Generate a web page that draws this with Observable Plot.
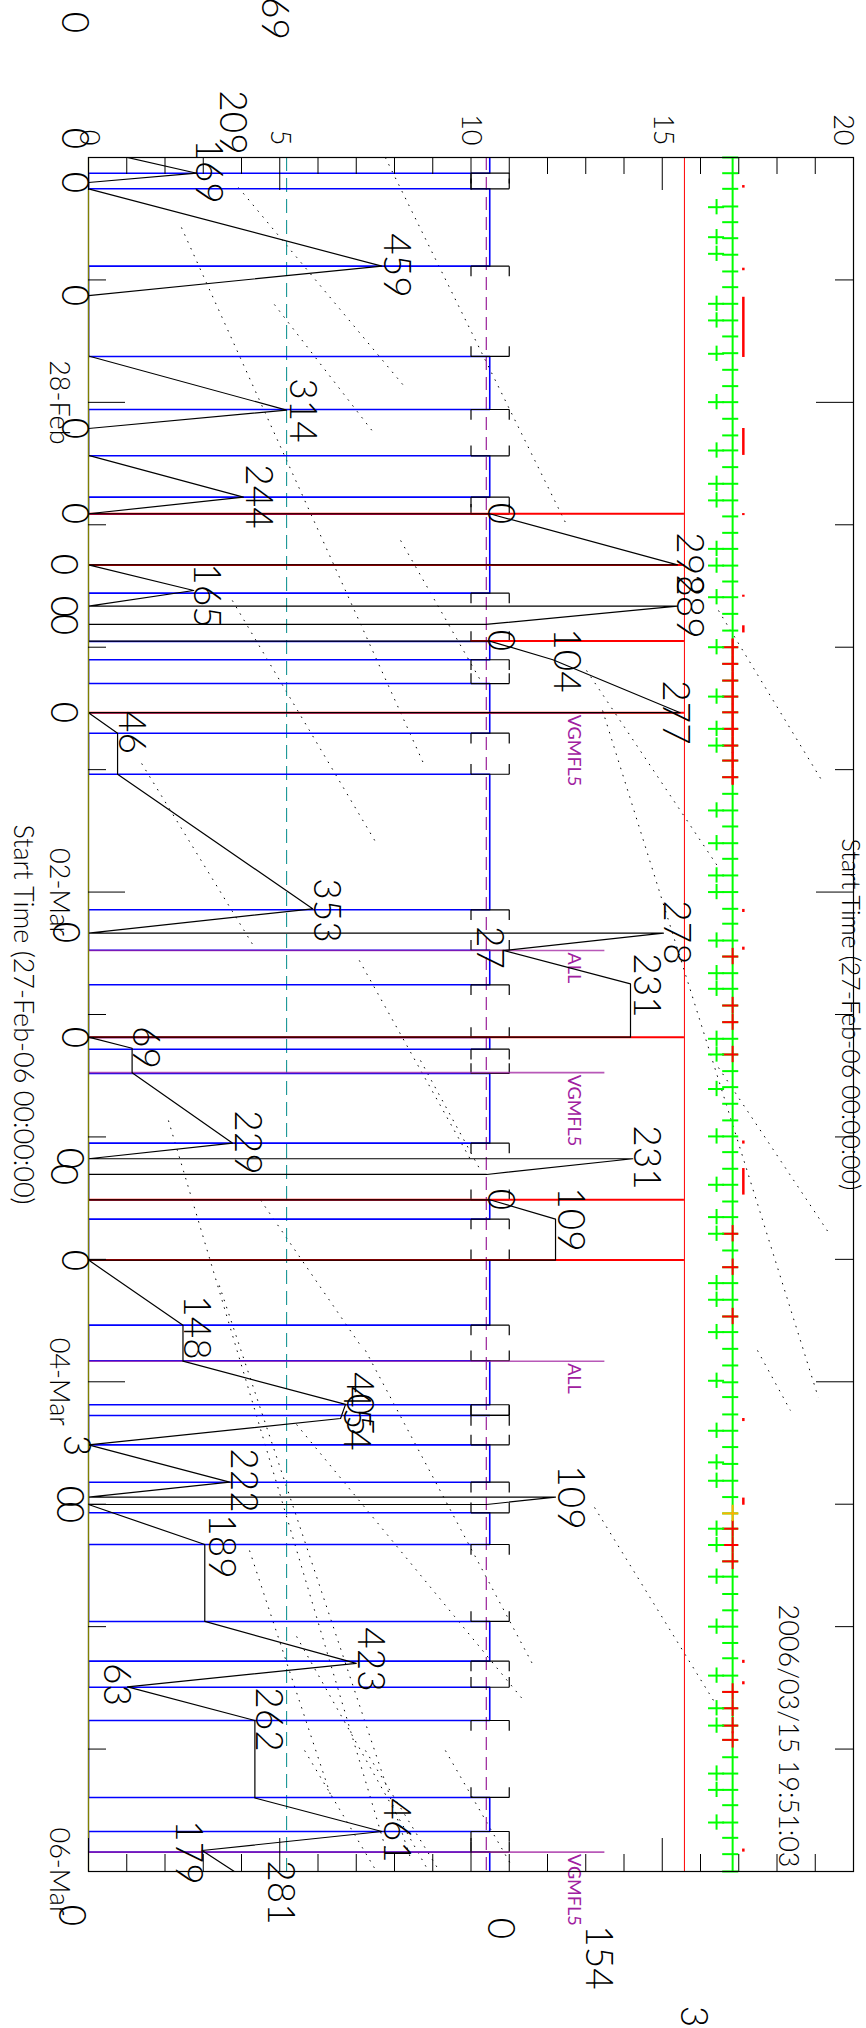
<!DOCTYPE html>
<html><head><meta charset="utf-8">
<script src="https://cdn.jsdelivr.net/npm/d3@7"></script>
<script src="https://cdn.jsdelivr.net/npm/@observablehq/plot@0.6"></script>
<style>html,body{margin:0;padding:0;background:#fff}svg{display:block}</style>
</head><body><div id="chart"></div>
<script>
// All times: hours since 27-Feb-06 00:00:00 ; values on the 0-20 axis
const dayTicks = [24, 72, 120, 168];
const dayLabels = ["28-Feb", "02-Mar", "04-Mar", "06-Mar"];
const minorTimeTicks = [12, 36, 48, 60, 84, 96, 108, 132, 144, 156];
const valueTicks = [0, 5, 10, 15, 20];
const valueMinor = [1,2,3,4,6,7,8,9,11,12,13,14,16,17,18,19];

const blueLevel = 10.49;
const blueGapStart = [1.54,10.65,24.70,33.29,42.70,49.23,56.43,73.74,81.09,87.40,96.61,104.06,114.45,122.25,123.30,129.84,135.95,147.38,153.20,164.08];
const blueGapEnd   = [3.07,19.50,29.24,34.96,47.44,51.56,60.45,77.70,86.25,89.78,102.16,108.04,117.94,123.30,126.18,132.84,143.49,149.94,160.74,166.10];

const recorderT = [-13.6,-13.2,-3.43,-0.87,1.54,2.45,3.07,10.65,13.53,19.46,24.76,26.56,29.2,33.29,34.92,34.92,39.93,39.93,42.44,43.97,43.97,45.77,45.77,47.4,47.4,49.23,54.42,54.42,56.43,60.45,73.64,76.03,76.03,77.73,81.0,86.22,86.22,87.31,89.7,96.61,98.14,98.14,99.68,99.68,102.16,102.16,104.06,108.07,108.07,114.45,117.98,122.21,123.6,126.18,129.84,131.3,131.3,132.03,132.03,135.95,143.49,147.6,149.9,153.2,160.8,164.08,165.94,170.0,174.3,175.5,178.4,184.2];
const recorderV = [4.47,0,3.40,0,2.83,0,0,7.67,0,0,5.18,0,0,4.05,0,10.49,15.4,0,2.75,0,15.4,10.39,0,0,10.49,12.14,15.47,0,0.76,0.76,5.86,0,15.03,10.85,14.17,14.17,0,1.14,1.14,3.77,0,14.23,10.41,0,0,10.49,12.21,12.21,0,2.47,2.47,6.72,6.59,0,3.69,0,12.21,10.41,0,3.04,3.04,7.0,1.02,4.35,4.35,7.67,2.97,4.63,0,10.49,12.94,15.42];

const labelText = ["69","0","209","0","169","0","459","0","314","0","244","0","0","298","0","165","0","289","0","0","104","277","0","46","353","0","278","27","231","0","69","229","0","231","0","0","109","0","148","405","454","3","222","0","109","0","189","423","63","262","461","179","281","0","0","154","3"];
const labelT = [-13.62,-13.23,-3.43,-1.86,1.37,2.45,10.59,13.53,24.80,26.56,33.23,34.89,34.89,39.89,39.89,42.93,44.01,44.01,45.77,47.34,49.30,54.40,54.40,56.36,73.81,75.96,75.96,77.43,81.16,86.25,87.23,96.55,98.11,98.02,99.68,102.13,104.09,108.11,114.68,122.2,123.6,126.24,129.67,131.24,131.34,132.81,136.14,147.22,149.67,153.1,163.98,166.14,170.06,172.31,173.58,176.43,182.21];
const labelV = [4.84,-0.39,3.76,-0.39,3.11,-0.39,8.03,-0.39,5.57,-0.39,4.42,-0.39,10.75,15.69,-0.68,3.08,-0.68,15.69,-0.68,10.75,12.47,15.32,-0.68,1.10,6.20,-0.63,15.35,10.46,14.56,-0.39,1.46,4.13,-0.52,14.56,-0.68,10.75,12.58,-0.39,2.80,7.08,7.0,-0.34,4.03,-0.52,12.58,-0.52,3.45,7.35,0.71,4.68,8.03,2.61,4.99,-0.47,10.75,13.31,15.79];

const redLineT  = [34.92, 39.93, 47.40, 54.42, 86.22, 102.16, 108.07];
const redLineV1 = [0, 0, 10.0, 0, 0, 0, 0];
const redLineV2 = [15.58, 15.58, 15.58, 15.58, 15.58, 15.58, 15.58];

const modeT = [54.42, 77.73, 89.70, 117.98, 166.10];
const modeName = ["VGMFL5", "ALL", "VGMFL5", "ALL", "VGMFL5"];

// dotted guide segments (start/end time and value)
const dotT1 = [0, 2.94, 14.41, 6.86, 43.42, 59.40, 50.28, 44.40, 37.54, 78.7, 88.51, 102.2, 89.2, 116.93, 132.32, 116.93, 156.14, 156.14, 156.14, 136.54, 54.2, 94.39, 110.56, 124.19, 144.96];
const dotV1 = [7.76, 3.92, 4.86, 2.43, 3.76, 1.39, 13.02, 16.47, 8.16, 7.08, 8.68, 4.5, 16.47, 7.24, 13.23, 17.49, 5.65, 7.24, 9.33, 4.21, 13.44, 2.09, 3.42, 5.44, 5.44];
const dotT2 = [35.78, 22.45, 26.95, 59.40, 67.24, 77.43, 69.59, 61.36, 51.26, 98.3, 99.29, 116.7, 105.5, 147.81, 151.24, 122.81, 168, 168, 167.41, 160.75, 121.54, 165.65, 166.92, 151.43, 168.3];
const dotV2 = [12.47, 8.26, 7.45, 8.76, 7.53, 4.34, 16.47, 19.22, 10.25, 10.0, 10.25, 7.16, 19.37, 11.63, 16.34, 18.35, 7.53, 9.18, 11.06, 6.35, 19.08, 7.76, 8.44, 11.42, 8.94];

// per-orbit marks on the status line, and the extra pass marks beside it
const orbitT = [0,1.54,3.07,4.80,6.34,7.91,9.53,11.17,12.71,14.34,15.97,17.54,19.18,20.81,22.41,23.98,25.61,27.24,28.71,30.35,31.98,33.61,35.18,36.79,38.36,40.00,41.56,43.10,44.73,46.37,48.0,49.63,51.27,52.84,54.38,56.0,57.64,59.11,60.74,62.37,64.0,65.57,67.21,68.74,70.37,72.0,73.64,75.1,76.75,78.32,79.95,81.48,83.12,84.75,86.38,87.92,89.55,91.12,92.75,94.38,95.95,97.49,99.12,100.69,102.33,103.86,105.49,107.13,108.77,110.33,111.96,113.6,115.13,116.77,118.4,120.05,121.5,123.2,124.8,126.4,128.05,129.7,131.3,132.9,134.4,136.0,137.6,139.1,140.8,142.4,144.0,145.6,147.1,148.8,150.4,152.0,153.7,155.1,156.8,158.4,160.0,161.5,163.2,164.7,166.3,168];
const redOrbitT = [48.0,49.63,51.27,52.84,54.38,56.0,57.64,59.11,60.74,78.32,83.12,84.75,87.92,105.49,108.77,113.6,134.4,136.0,137.6,150.4,152.0,153.7,155.1];
const orangeOrbitT = [132.9];
const passT = [4.87,7.81,9.44,14.34,15.97,19.24,23.98,28.72,31.98,33.61,38.36,40.0,43.1,48.0,52.84,56.0,57.64,64.0,67.21,70.37,72.0,76.75,79.95,81.48,86.38,87.92,91.3,95.95,100.69,103.86,105.49,110.33,111.96,115.13,119.9,124.8,127.9,129.7,134.4,136.0,139.1,144.0,148.8,152.0,153.7,158.4,160.0,163.2];
const redMarkT1 = [2.75,10.85,13.7,26.56,34.9,42.9,45.9,73.7,77.4,96.4,99.1,123.6,131.4,147.3,149.4,165.8];
const redMarkT2 = [3.0,11.1,19.6,29.2,35.1,43.1,46.6,74.0,77.7,96.7,101.7,123.9,132.1,147.6,149.7,166.1];

// ---- derived tables ----
const bluePts = [{t: 0, v: blueLevel}];
blueGapStart.forEach((a, i) => {
  const b = blueGapEnd[i];
  bluePts.push({t: a, v: blueLevel}, {t: a, v: 0}, {t: b, v: 0}, {t: b, v: blueLevel});
});
bluePts.push({t: 168, v: blueLevel});

const bracket = [];
blueGapStart.forEach((a, i) => {
  const b = blueGapEnd[i], leg = Math.min(1.0, b - a);
  bracket.push({x1: 10, y1: a, x2: 11, y2: a}, {x1: 10, y1: a, x2: 10, y2: a + leg}, {x1: 11, y1: a, x2: 11, y2: a + leg});
  bracket.push({x1: 10, y1: b, x2: 11, y2: b}, {x1: 10, y1: b - leg, x2: 10, y2: b}, {x1: 11, y1: b - leg, x2: 11, y2: b});
});
const recorder = recorderT.map((t, i) => ({t, v: recorderV[i]}));
const labels = labelText.map((s, i) => ({s, t: labelT[i], v: labelV[i]}));
const redLines = redLineT.map((t, i) => ({t, v1: redLineV1[i], v2: redLineV2[i]}));
const modes = modeT.map((t, i) => ({t, s: modeName[i]}));
const redMarks = redMarkT1.map((t, i) => ({t1: t, t2: redMarkT2[i]}));
const dots = dotT1.map((t, i) => ({t1: t, v1: dotV1[i], t2: dotT2[i], v2: dotV2[i]}));

const FONT = "Lato, Inter, 'DejaVu Sans', sans-serif";
const pxV = 20 / 765, pxT = 168 / 1714;
const lineV = 16.84;

const chart = Plot.plot({
  width: 866, height: 2028,
  marginLeft: 88, marginRight: 13, marginTop: 157, marginBottom: 157,
  x: {domain: [0, 20], axis: null},
  y: {domain: [0, 168], reverse: true, axis: null},
  style: {fontFamily: FONT, background: "#fff", overflow: "visible"},
  marks: [
    Plot.link(dots, {x1: "v1", y1: "t1", x2: "v2", y2: "t2", stroke: "#000", strokeWidth: 1, strokeDasharray: "1.5,6", clip: true}),
    Plot.ruleX([5.18], {stroke: "#008b8b", strokeWidth: 1, strokeDasharray: "14,7"}),
    Plot.ruleX([10.40], {stroke: "#9a209a", strokeWidth: 1.2, strokeDasharray: "13,7"}),
    Plot.ruleX([15.58], {stroke: "#ff0000", strokeWidth: 1}),
    Plot.line(bluePts, {x: "v", y: "t", stroke: "#0000ff", strokeWidth: 1.6, curve: "linear", clip: true}),
    Plot.link(bracket, {x1: "x1", y1: "y1", x2: "x2", y2: "y2", stroke: "#000", strokeWidth: 1.2}),
    Plot.ruleY(redLines, {y: "t", x1: "v1", x2: "v2", stroke: "#ff0000", strokeWidth: 2}),
    Plot.ruleY(modes, {y: "t", x1: 0, x2: 13.5, stroke: "#a020a0", strokeWidth: 1.6, strokeOpacity: 0.75}),
    Plot.text(modes, {x: 12.68, y: "t", dy: 2, text: "s", rotate: 90, textAnchor: "start", fill: "#a020a0", fontSize: 18, fontWeight: 400}),
    Plot.line(recorder, {x: "v", y: "t", stroke: "#000", strokeWidth: 1.2, clip: true}),
    // right side status columns
    Plot.ruleX([lineV], {stroke: "#00ff00", strokeWidth: 2}),
    Plot.ruleX([lineV], {y1: 47.2, y2: 61.5, stroke: "#ff0000", strokeWidth: 2}),
    Plot.ruleY(orbitT, {y: d => d, x1: 16.58, x2: 17.0, stroke: "#00ff00", strokeWidth: 2}),
    Plot.ruleY(redOrbitT, {y: d => d, x1: 16.58, x2: 17.0, stroke: "#ff0000", strokeWidth: 2}),
    Plot.ruleX(redOrbitT, {x: lineV, y1: d => d - 0.8, y2: d => d + 0.8, stroke: "#ff0000", strokeWidth: 2}),
    Plot.ruleY(orangeOrbitT, {y: d => d, x1: 16.58, x2: 17.0, stroke: "#ffb000", strokeWidth: 2}),
    Plot.ruleX(orangeOrbitT, {x: lineV, y1: d => d - 0.8, y2: d => d + 0.8, stroke: "#ffb000", strokeWidth: 2}),
    Plot.ruleY(passT, {y: d => d, x1: 16.21, x2: 16.63, stroke: "#00ff00", strokeWidth: 2}),
    Plot.ruleX(passT, {x: 16.42, y1: d => d - 0.75, y2: d => d + 0.75, stroke: "#00ff00", strokeWidth: 2}),
    Plot.ruleX(redMarks, {x: 17.12, y1: "t1", y2: "t2", stroke: "#ff0000", strokeWidth: 2.5}),
    // frame + axes
    Plot.frame({stroke: "#000", strokeWidth: 1.2}),
    Plot.ruleX([0], {stroke: "#808000", strokeWidth: 1.2}),
    Plot.ruleY(dayTicks, {y: d => d, x1: 0, x2: 37 * pxV, stroke: "#000"}),
    Plot.ruleY(minorTimeTicks, {y: d => d, x1: 0, x2: 18 * pxV, stroke: "#000"}),
    Plot.ruleY(dayTicks, {y: d => d, x1: 20 - 37 * pxV, x2: 20, stroke: "#000"}),
    Plot.ruleY(minorTimeTicks, {y: d => d, x1: 20 - 18 * pxV, x2: 20, stroke: "#000"}),
    Plot.ruleX(valueTicks, {x: d => d, y1: 0, y2: 33 * pxT, stroke: "#000"}),
    Plot.ruleX(valueMinor, {x: d => d, y1: 0, y2: 17 * pxT, stroke: "#000"}),
    Plot.ruleX(valueTicks, {x: d => d, y1: 168 - 33 * pxT, y2: 168, stroke: "#000"}),
    Plot.ruleX(valueMinor, {x: d => d, y1: 168 - 17 * pxT, y2: 168, stroke: "#000"}),
    Plot.text(valueTicks.slice(0, 4), {x: d => d, y: 0, dy: -12, text: d => String(d), rotate: 90, textAnchor: "end", lineAnchor: "middle", fontSize: 27, fontWeight: 300, fill: "#000"}),
    Plot.text(valueTicks.slice(4), {x: d => d, y: 0, dx: -11, dy: -12, text: d => String(d), rotate: 90, textAnchor: "end", lineAnchor: "middle", fontSize: 27, fontWeight: 300, fill: "#000"}),
    Plot.text(dayTicks, {x: 0, y: d => d, dx: -19, text: (d, i) => dayLabels[i], rotate: 90, textAnchor: "middle", lineAnchor: "top", fontSize: 27, fontWeight: 300, fill: "#000"}),
    Plot.text(["Start Time (27-Feb-06 00:00:00)"], {x: 0, y: 84, dx: -66, text: d => d, rotate: 90, textAnchor: "middle", lineAnchor: "middle", fontSize: 27, fontWeight: 300, letterSpacing: 1.5, fill: "#000"}),
    Plot.text(["Start Time (27-Feb-06 00:00:00)"], {x: 20, y: 84, dx: -4, text: d => d, rotate: 90, textAnchor: "middle", lineAnchor: "middle", fontSize: 25, fontWeight: 300, letterSpacing: 1.8, fill: "#000"}),
    Plot.text(["2006/03/15 19:51:03"], {x: 18.27, y: 168, dy: -4, text: d => d, rotate: 90, textAnchor: "end", lineAnchor: "middle", fontSize: 27, fontWeight: 300, letterSpacing: 1.5, fill: "#000"}),
    // recorder labels
    Plot.text(labels, {x: "v", y: "t", text: "s", rotate: 90, textAnchor: "middle", lineAnchor: "middle", fontSize: 37, fontWeight: 300, fill: "#000"})
  ]
});
document.getElementById("chart").appendChild(chart);
</script>
</body></html>
